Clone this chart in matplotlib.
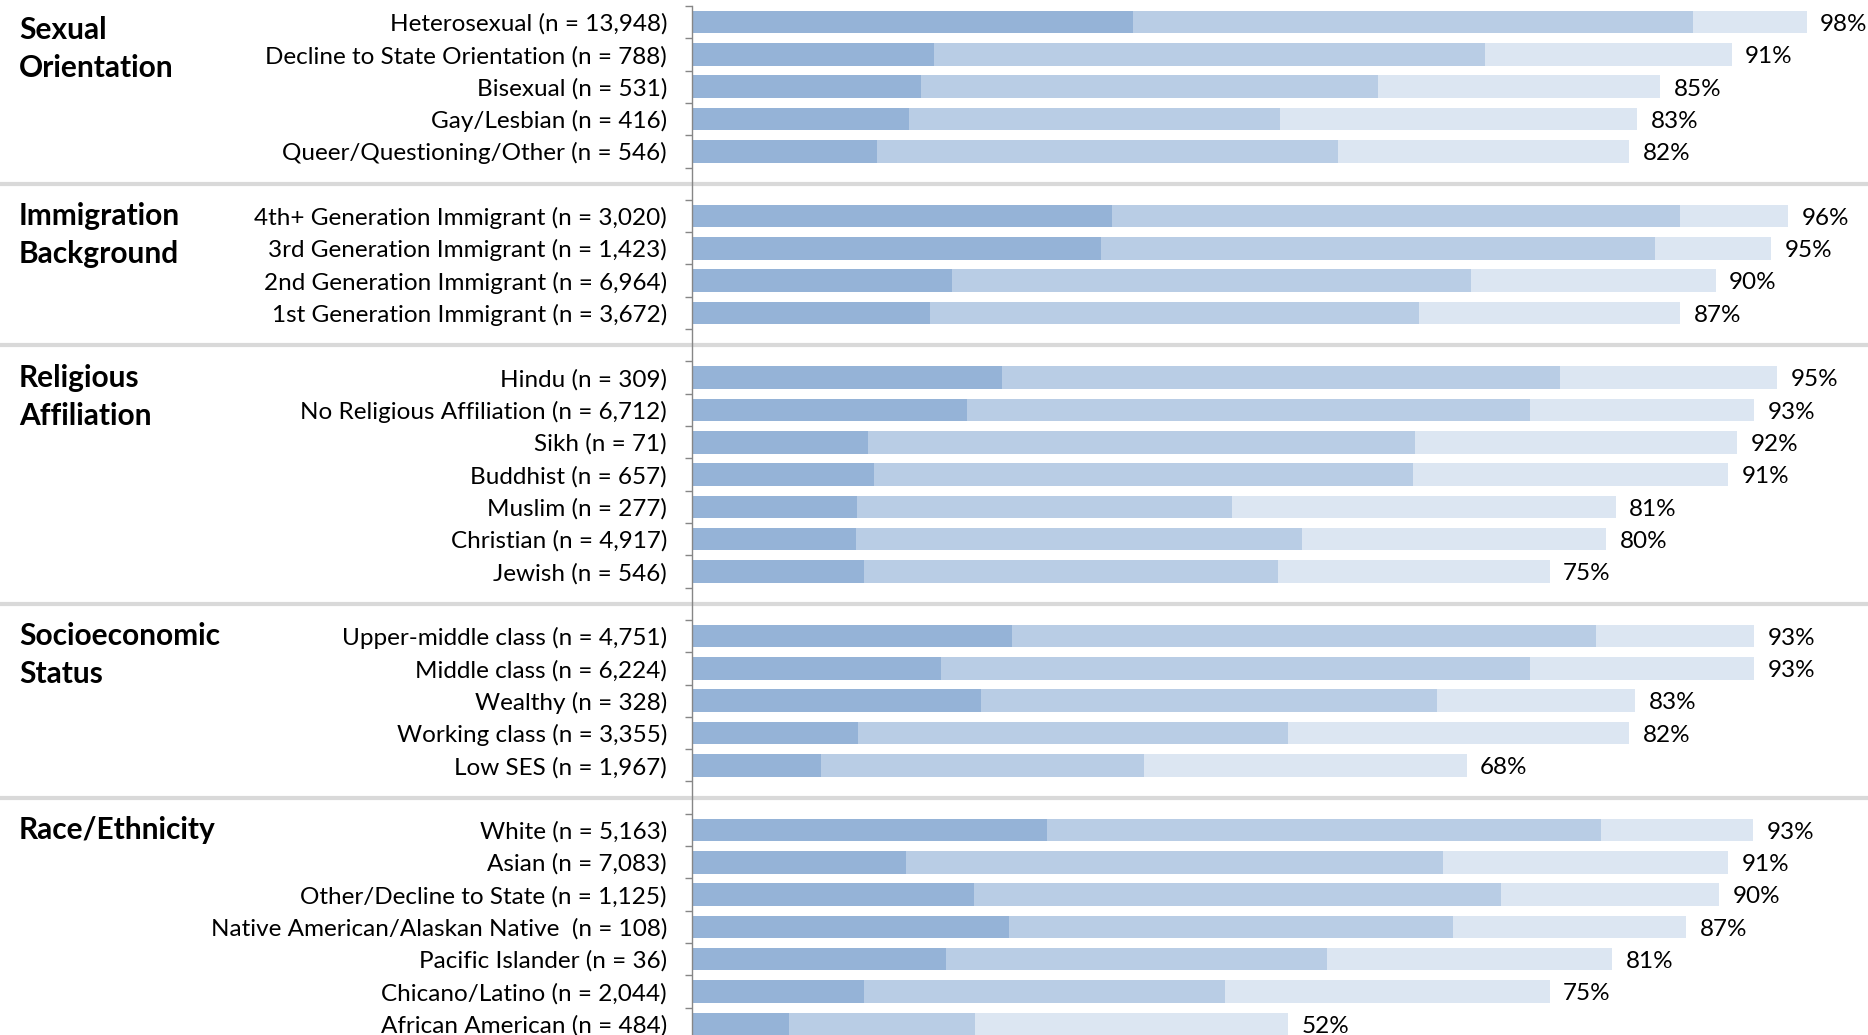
import numpy as np
import matplotlib.pyplot as plt
from matplotlib import transforms

plt.rcParams['font.family'] = ['Lato', 'DejaVu Sans']

# group headers (one entry per line) and number of rows in each group
group_titles = [['Sexual', 'Orientation'],
                ['Immigration', 'Background'],
                ['Religious', 'Affiliation'],
                ['Socioeconomic', 'Status'],
                ['Race/Ethnicity']]
group_sizes = [5, 4, 7, 5, 7]

categories = ['Heterosexual (n = 13,948)', 'Decline to State Orientation (n = 788)',
              'Bisexual (n = 531)', 'Gay/Lesbian (n = 416)', 'Queer/Questioning/Other (n = 546)',
              '4th+ Generation Immigrant (n = 3,020)', '3rd Generation Immigrant (n = 1,423)',
              '2nd Generation Immigrant (n = 6,964)', '1st Generation Immigrant (n = 3,672)',
              'Hindu (n = 309)', 'No Religious Affiliation (n = 6,712)', 'Sikh (n = 71)',
              'Buddhist (n = 657)', 'Muslim (n = 277)', 'Christian (n = 4,917)', 'Jewish (n = 546)',
              'Upper-middle class (n = 4,751)', 'Middle class (n = 6,224)', 'Wealthy (n = 328)',
              'Working class (n = 3,355)', 'Low SES (n = 1,967)',
              'White (n = 5,163)', 'Asian (n = 7,083)', 'Other/Decline to State (n = 1,125)',
              'Native American/Alaskan Native  (n = 108)', 'Pacific Islander (n = 36)',
              'Chicano/Latino (n = 2,044)', 'African American (n = 484)']

# cumulative % at the end of each segment
dark_end = [38.8, 21.3, 20.1, 19.1, 16.3,
            36.9, 36.0, 22.9, 20.9,
            27.3, 24.2, 15.5, 16.0, 14.5, 14.4, 15.1,
            28.1, 21.9, 25.4, 14.6, 11.3,
            31.2, 18.8, 24.8, 27.9, 22.3, 15.1, 8.5]
mid_end = [88.0, 69.7, 60.3, 51.7, 56.8,
           86.9, 84.7, 68.5, 63.9,
           76.3, 73.7, 63.6, 63.4, 47.5, 53.6, 51.5,
           79.5, 73.7, 65.5, 52.4, 39.7,
           79.9, 66.0, 71.1, 66.9, 55.8, 46.9, 24.9]
total = [98.0, 91.4, 85.1, 83.1, 82.4,
         96.4, 94.9, 90.0, 86.9,
         95.4, 93.4, 91.9, 91.1, 81.2, 80.4, 75.4,
         93.4, 93.4, 82.9, 82.4, 68.1,
         93.3, 91.1, 90.3, 87.4, 80.9, 75.4, 52.4]

dark_end = np.array(dark_end)
mid_end = np.array(mid_end)
total = np.array(total)

# row positions: one blank row between groups
rows = []
group_first = []
gap_rows = []
r = 0
for gi, n in enumerate(group_sizes):
    group_first.append(r)
    rows.extend(range(r, r + n))
    r += n
    if gi < len(group_sizes) - 1:
        gap_rows.append(r)
        r += 1
n_rows = r
rows = np.array(rows)

fig = plt.figure(figsize=(18.68, 10.35), dpi=100)
ax = fig.add_axes([692 / 1868, -0.0048, 1 - 692 / 1868, 0.999])

h = 0.70
ax.barh(rows, dark_end, height=h, color='#95b3d7')
ax.barh(rows, mid_end - dark_end, left=dark_end, height=h, color='#b9cde5')
ax.barh(rows, total - mid_end, left=mid_end, height=h, color='#dce6f2')

for y, t in zip(rows, total):
    ax.text(t + 1.2, y + 0.07, f'{round(t)}%', va='center', ha='left', fontsize=17.5)

ax.set_xlim(0, 103.4)
ax.set_ylim(n_rows - 0.5, -0.5)

# ticks on row boundaries, labels on row centres
ax.set_yticks(np.arange(-0.5, n_rows, 1))
ax.set_yticklabels([])
ax.set_yticks(rows, categories, minor=True)
ax.tick_params(axis='y', which='major', length=5, width=1, color='#868686', direction='out')
ax.tick_params(axis='y', which='minor', length=0, pad=18, labelsize=17.5)
ax.set_xticks([])

for s in ['top', 'right', 'bottom']:
    ax.spines[s].set_visible(False)
ax.spines['left'].set_color('#868686')
ax.spines['left'].set_linewidth(1)

# grey separators between groups across the whole figure
trans = transforms.blended_transform_factory(fig.transFigure, ax.transData)
for g in gap_rows:
    ax.plot([0.001, 1], [g, g], transform=trans, clip_on=False, color='#d9d9d9', lw=3, zorder=0)

# group headers
for gi, lines in enumerate(group_titles):
    y0 = group_first[gi] + (0.25 if gi == 0 else 0)
    for li, txt in enumerate(lines):
        ax.text(19 / 1868, y0 + li * 1.18, txt, transform=trans, ha='left', va='center',
                fontsize=21.5, fontweight='bold')

plt.savefig('out.png', dpi=100)
